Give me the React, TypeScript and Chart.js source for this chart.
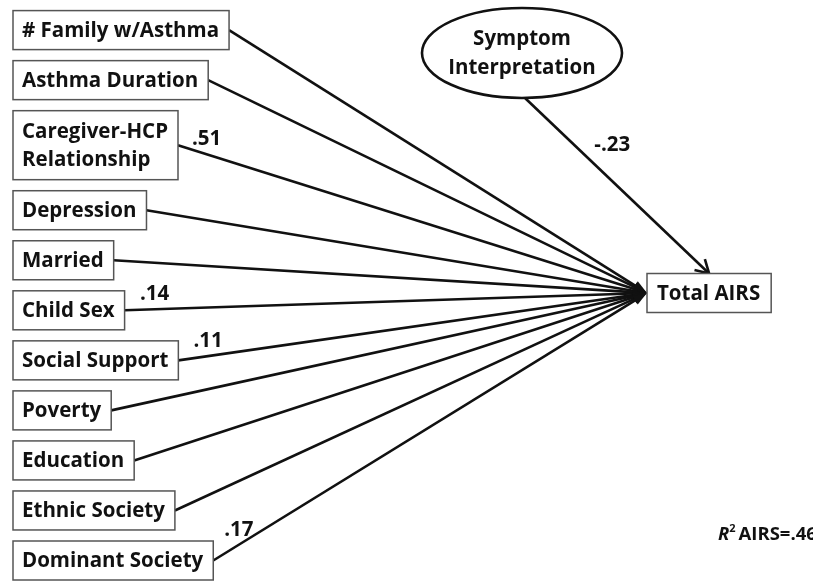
import React, { useEffect, useRef } from "react";
import { Chart, registerables } from "chart.js";

Chart.register(...registerables);

// ---- data ----
const predictors: (string | string[])[] = [
  "# Family w/Asthma",
  "Asthma Duration",
  ["Caregiver-HCP", "Relationship"],
  "Depression",
  "Married",
  "Child Sex",
  "Social Support",
  "Poverty",
  "Education",
  "Ethnic Society",
  "Dominant Society",
];
const pathCoefficients = ["", "", ".51", "", "", ".14", ".11", "", "", "", ".17"];
const mediatorLabel = ["Symptom", "Interpretation"];
const mediatorCoefficient = "-.23";
const outcomeLabel = "Total AIRS";
const r2Label = "AIRS=.46";

// ---- layout (not data) ----
const FONT_FAMILY = "'Open Sans', 'Noto Sans', sans-serif";
const BOX_FONT = `bold 20.5px ${FONT_FAMILY}`;
const LINE_H = 28;
const BOX_H1 = 39;
const GAP_UNITS = 0.22;
const UNIT_PX = 50.17;

function linesOf(l: string | string[]) {
  return Array.isArray(l) ? l : [l];
}
// stack rows by their line count
const rowPos: number[] = [];
{
  let p = 0;
  predictors.forEach((lab, i) => {
    if (i > 0) {
      const hPrev = (BOX_H1 + (linesOf(predictors[i - 1]).length - 1) * 30) / 2 / UNIT_PX;
      const hCur = (BOX_H1 + (linesOf(lab).length - 1) * 30) / 2 / UNIT_PX;
      p += hPrev + hCur + GAP_UNITS;
    }
    rowPos.push(p);
  });
}

const diagramPlugin = {
  id: "pathDiagram",
  afterDatasetsDraw(chart: any) {
    const ctx: CanvasRenderingContext2D = chart.ctx;
    const xs = chart.scales.x;
    const ys = chart.scales.y;
    const X = (v: number) => xs.getPixelForValue(v);
    const Y = (v: number) => ys.getPixelForValue(v);
    const ink = "#111";

    ctx.save();
    ctx.font = BOX_FONT;
    ctx.textBaseline = "middle";

    // outcome box
    const outW = ctx.measureText(outcomeLabel).width + 21;
    const outLeft = X(647);
    const outCy = Y(5.24);
    const outTop = outCy - BOX_H1 / 2;
    const tip = { x: outLeft, y: outCy };

    // predictor boxes geometry
    const boxes = predictors.map((lab, i) => {
      const ls = linesOf(lab);
      const w = Math.max(...ls.map((s) => ctx.measureText(s).width)) + 19;
      const h = BOX_H1 + (ls.length - 1) * 30;
      const cy = Y(rowPos[i]);
      return { ls, x: X(13), y: cy - h / 2, w, h, cy };
    });

    // paths
    ctx.strokeStyle = ink;
    ctx.fillStyle = ink;
    ctx.lineWidth = 2.6;
    boxes.forEach((b) => {
      const sx = b.x + b.w;
      const sy = b.cy;
      const dx = tip.x - sx;
      const dy = tip.y - sy;
      const len = Math.hypot(dx, dy);
      const ux = dx / len;
      const uy = dy / len;
      const aL = 14;
      const aW = 5;
      ctx.beginPath();
      ctx.moveTo(sx, sy);
      ctx.lineTo(tip.x - ux * aL, tip.y - uy * aL);
      ctx.stroke();
      ctx.beginPath();
      ctx.moveTo(tip.x, tip.y);
      ctx.lineTo(tip.x - ux * aL - uy * aW, tip.y - uy * aL + ux * aW);
      ctx.lineTo(tip.x - ux * aL + uy * aW, tip.y - uy * aL - ux * aW);
      ctx.closePath();
      ctx.fill();
    });

    // mediator ellipse & arrow
    const ex = X(522);
    const ey = Y(0.456);
    const rx = 100;
    const ry = 45;
    const mTip = { x: outLeft + outW / 2, y: outTop };
    const ms = { x: ex + 3, y: ey + ry };
    {
      const dx = mTip.x - ms.x;
      const dy = mTip.y - ms.y;
      const len = Math.hypot(dx, dy);
      const ux = dx / len;
      const uy = dy / len;
      ctx.beginPath();
      ctx.moveTo(ms.x, ms.y);
      ctx.lineTo(mTip.x, mTip.y);
      ctx.stroke();
      const a = Math.PI / 6;
      const L = 15;
      const ang = Math.atan2(uy, ux);
      ctx.beginPath();
      ctx.moveTo(mTip.x - L * Math.cos(ang - a), mTip.y - L * Math.sin(ang - a));
      ctx.lineTo(mTip.x, mTip.y);
      ctx.lineTo(mTip.x - L * Math.cos(ang + a), mTip.y - L * Math.sin(ang + a));
      ctx.stroke();
      // coefficient
      ctx.font = BOX_FONT;
      ctx.textAlign = "center";
      ctx.fillStyle = ink;
      const t = 47 / uy;
      ctx.fillText(mediatorCoefficient, ms.x + ux * t + 38, ms.y + uy * t);
    }
    ctx.beginPath();
    ctx.ellipse(ex, ey, rx, ry, 0, 0, Math.PI * 2);
    ctx.fillStyle = "#fff";
    ctx.fill();
    ctx.lineWidth = 2.6;
    ctx.strokeStyle = ink;
    ctx.stroke();
    ctx.fillStyle = ink;
    ctx.textAlign = "center";
    mediatorLabel.forEach((s, i) => {
      ctx.fillText(s, ex, ey - 14 + i * 29);
    });

    // predictor boxes
    boxes.forEach((b) => {
      ctx.fillStyle = "#fff";
      ctx.fillRect(b.x, b.y, b.w, b.h);
      ctx.strokeStyle = "#555";
      ctx.lineWidth = 1.5;
      ctx.strokeRect(b.x, b.y, b.w, b.h);
      ctx.fillStyle = ink;
      ctx.textAlign = "left";
      b.ls.forEach((s, j) => {
        const ty = b.cy - ((b.ls.length - 1) * LINE_H) / 2 + j * LINE_H;
        ctx.fillText(s, b.x + 9, ty + 1);
      });
    });

    // coefficients on predictor paths
    ctx.textAlign = "center";
    ctx.fillStyle = ink;
    boxes.forEach((b, i) => {
      const c = pathCoefficients[i];
      if (!c) return;
      const sx = b.x + b.w;
      const sy = b.cy;
      const dx = tip.x - sx;
      const dy = tip.y - sy;
      const len = Math.hypot(dx, dy);
      const t = 30;
      ctx.fillText(c, sx + (dx / len) * t, sy + (dy / len) * t - 15);
    });

    // outcome box
    ctx.fillStyle = "#fff";
    ctx.fillRect(outLeft, outTop, outW, BOX_H1);
    ctx.strokeStyle = "#555";
    ctx.lineWidth = 1.5;
    ctx.strokeRect(outLeft, outTop, outW, BOX_H1);
    ctx.fillStyle = ink;
    ctx.textAlign = "left";
    ctx.fillText(outcomeLabel, outLeft + 10, outCy + 1);

    // R squared note
    ctx.textBaseline = "alphabetic";
    let rxp = X(718);
    const ryp = Y(10.17);
    ctx.font = `italic bold 18.5px ${FONT_FAMILY}`;
    ctx.fillText("R", rxp, ryp);
    rxp += ctx.measureText("R").width;
    ctx.font = `bold 11px ${FONT_FAMILY}`;
    ctx.fillText("2", rxp, ryp - 8);
    rxp += ctx.measureText("2").width + 3;
    ctx.font = `bold 18.5px ${FONT_FAMILY}`;
    ctx.fillText(r2Label, rxp, ryp);

    ctx.restore();
  },
};

export default function App() {
  const ref = useRef<HTMLCanvasElement>(null);
  useEffect(() => {
    document.body.style.margin = "0";
    const chart = new Chart(ref.current!, {
      type: "scatter",
      data: {
        datasets: [
          {
            label: "predictors",
            data: rowPos.map((p) => ({ x: 13, y: p })),
            pointRadius: 0,
            pointHoverRadius: 0,
          },
        ],
      },
      options: {
        responsive: false,
        animation: false,
        events: [],
        layout: { padding: 0 },
        plugins: { legend: { display: false }, tooltip: { enabled: false } },
        scales: {
          x: { type: "linear", display: false, min: 0, max: 813 },
          y: { type: "linear", display: false, min: -0.6, max: 11.0, reverse: true },
        },
      },
      plugins: [diagramPlugin],
    });
    return () => chart.destroy();
  }, []);
  return (
    <div style={{ width: 813, height: 582, background: "#fff" }}>
      <canvas ref={ref} width={813} height={582} style={{ display: "block" }} />
    </div>
  );
}
